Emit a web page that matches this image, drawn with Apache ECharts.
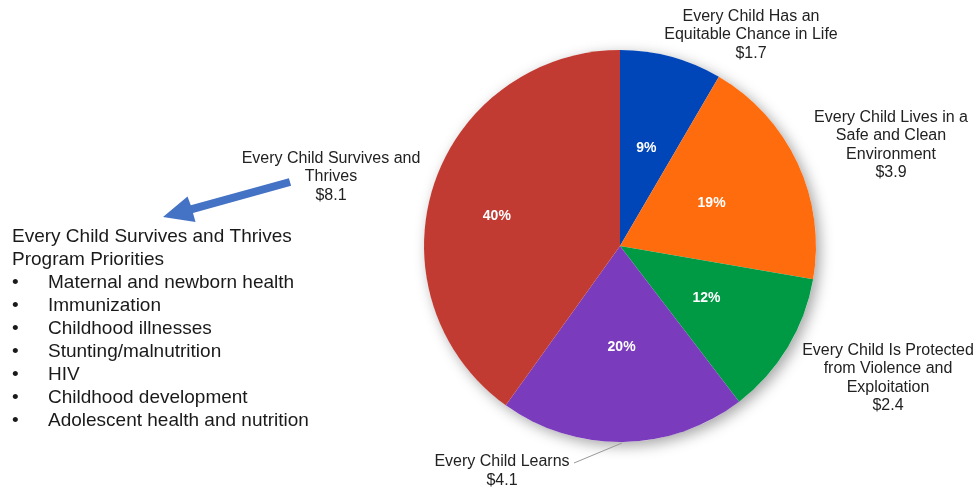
<!DOCTYPE html>
<html>
<head>
<meta charset="utf-8">
<script src="https://cdn.jsdelivr.net/npm/echarts@6/dist/echarts.min.js"></script>
<style>html,body{margin:0;padding:0;background:#fff;}#c{width:980px;height:489px;}</style>
</head>
<body>
<div id="c"></div>
<script>
var categories = [
  'Every Child Has an\nEquitable Chance in Life',
  'Every Child Lives in a\nSafe and Clean\nEnvironment',
  'Every Child Is Protected\nfrom Violence and\nExploitation',
  'Every Child Learns',
  'Every Child Survives and\nThrives'
];
var values = [1.7, 3.9, 2.4, 4.1, 8.1];
var percentLabels = ['9%', '19%', '12%', '20%', '40%'];
var colors = ['#0046B8', '#FF6C0E', '#009A44', '#7A3CBC', '#C23B33'];
var priorityTitle = ['Every Child Survives and Thrives', 'Program Priorities'];
var priorities = ['Maternal and newborn health', 'Immunization', 'Childhood illnesses',
  'Stunting/malnutrition', 'HIV', 'Childhood development', 'Adolescent health and nutrition'];

var FONT = '"Liberation Sans", Arial, sans-serif';
var chart = echarts.init(document.getElementById('c'));

var total = values.reduce(function (a, b) { return a + b; }, 0);
var pieData = values.map(function (v, i) {
  return { name: categories[i], value: v, itemStyle: { color: colors[i] } };
});

// Outer label placement (layout only)
var outerPos = [
  { x: 751, y: 35 },
  { x: 891, y: 145 },
  { x: 888, y: 378 },
  { x: 502, y: 471 },
  { x: 331, y: 177 }
];

var graphics = [];
priorityTitle.forEach(function (t, i) {
  graphics.push({ type: 'text', left: 12, top: 227 + i * 23,
    style: { text: t, font: '19px ' + FONT, fill: '#1a1a1a' } });
});
priorities.forEach(function (t, i) {
  graphics.push({ type: 'text', left: 12, top: 273 + i * 23,
    style: { text: '\u2022', font: '19px ' + FONT, fill: '#1a1a1a' } });
  graphics.push({ type: 'text', left: 48, top: 273 + i * 23,
    style: { text: t, font: '19px ' + FONT, fill: '#1a1a1a' } });
});
// arrow
graphics.push({
  type: 'polygon',
  shape: { points: [[163, 217], [195.5, 222], [193, 212.9], [291.1, 185.8], [288.9, 178.2], [190.8, 205.2], [187.5, 196.5]] },
  style: { fill: '#4472C4' }
});

chart.setOption({
  animation: false,
  backgroundColor: '#fff',
  graphic: graphics,
  series: [
    {
      type: 'pie', silent: true, center: [620, 246], radius: 196,
      data: [{ value: total, itemStyle: { color: '#fff' } }],
      itemStyle: { shadowBlur: 14, shadowColor: 'rgba(0,0,0,0.35)', shadowOffsetX: 4, shadowOffsetY: 4 },
      label: { show: false }, labelLine: { show: false }, z: 1
    },
    {
      type: 'pie', center: [620, 246], radius: 196, startAngle: 90, clockwise: true,
      data: pieData, z: 2,
      label: {
        show: true, position: 'inside',
        formatter: function (p) { return percentLabels[p.dataIndex]; },
        color: '#fff', fontWeight: 'bold', fontSize: 14, fontFamily: FONT
      },
      labelLayout: function (p) {
        if (p.dataIndex === 4) { return { dx: -27, dy: 1 }; }
        return {};
      },
      labelLine: { show: false }
    },
    {
      type: 'pie', center: [620, 246], radius: 196, startAngle: 90, clockwise: true,
      silent: true, z: 3,
      data: values.map(function (v, i) { return { name: categories[i], value: v }; }),
      itemStyle: { color: 'rgba(0,0,0,0)' },
      label: {
        show: true, position: 'outside', overflow: 'none', width: 300,
        formatter: function (p) { return p.name + '\n$' + values[p.dataIndex]; },
        color: '#222', fontSize: 16, lineHeight: 18.5, fontFamily: FONT, align: 'center'
      },
      labelLine: { show: true, lineStyle: { color: '#999', width: 1 } },
      labelLayout: function (p) {
        var pos = outerPos[p.dataIndex];
        var r = { x: pos.x, y: pos.y, align: 'center', verticalAlign: 'middle' };
        if (p.dataIndex === 3) {
          r.labelLinePoints = [[622, 443], [598, 453], [574, 463]];
        } else {
          r.labelLinePoints = [[pos.x, pos.y], [pos.x, pos.y], [pos.x, pos.y]];
        }
        return r;
      }
    }
  ]
});
</script>
</body>
</html>
